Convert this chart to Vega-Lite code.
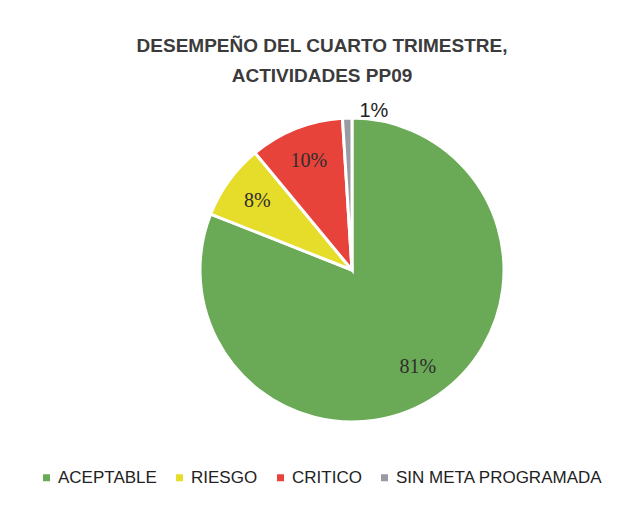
{
  "$schema": "https://vega.github.io/schema/vega-lite/v6.json",
  "autosize": {"type": "none"},
  "padding": {"left": 82, "top": 100, "right": 6, "bottom": 68},
  "width": 540,
  "height": 340,
  "background": "white",
  "config": {"view": {"stroke": null}},
  "title": {
    "text": ["DESEMPEÑO DEL CUARTO TRIMESTRE,", "ACTIVIDADES PP09"],
    "anchor": "middle",
    "frame": "group",
    "dx": -30,
    "offset": 14,
    "font": "Liberation Sans",
    "fontSize": 19,
    "fontWeight": "bold",
    "color": "#3b3b3b",
    "lineHeight": 30
  },
  "data": {
    "values": [
      {"categoria": "ACEPTABLE", "valor": 81, "orden": 1, "dentro": "81%", "fuera": ""},
      {"categoria": "RIESGO", "valor": 8, "orden": 2, "dentro": "8%", "fuera": ""},
      {"categoria": "CRITICO", "valor": 10, "orden": 3, "dentro": "10%", "fuera": ""},
      {"categoria": "SIN META PROGRAMADA", "valor": 1, "orden": 4, "dentro": "", "fuera": "1%"}
    ]
  },
  "encoding": {
    "theta": {"field": "valor", "type": "quantitative", "stack": true},
    "order": {"field": "orden", "type": "quantitative"}
  },
  "layer": [
    {
      "mark": {"type": "arc", "outerRadius": 152, "stroke": "white", "strokeWidth": 3},
      "encoding": {
        "color": {
          "field": "categoria",
          "type": "nominal",
          "scale": {
            "domain": ["ACEPTABLE", "RIESGO", "CRITICO", "SIN META PROGRAMADA"],
            "range": ["#6aa955", "#e6dc2a", "#e8433a", "#9a9aa2"]
          },
          "legend": {
            "title": null,
            "orient": "none",
            "direction": "horizontal",
            "legendX": -44,
            "legendY": 369,
            "symbolType": "square",
            "symbolSize": 49,
            "symbolStrokeWidth": 0,
            "labelFont": "Liberation Sans",
            "labelFontSize": 17,
            "labelColor": "#222222",
            "labelOffset": 3,
            "labelLimit": 400,
            "columnPadding": 14,
            "padding": 0
          }
        }
      }
    },
    {
      "mark": {"type": "text", "radius": 117, "font": "Liberation Serif", "fontSize": 20, "color": "#2e2e2e"},
      "encoding": {"text": {"field": "dentro", "type": "nominal"}}
    },
    {
      "mark": {"type": "text", "radius": 161, "dx": 27, "dy": 2, "font": "Liberation Sans", "fontSize": 20, "color": "#222222"},
      "encoding": {"text": {"field": "fuera", "type": "nominal"}}
    }
  ]
}
